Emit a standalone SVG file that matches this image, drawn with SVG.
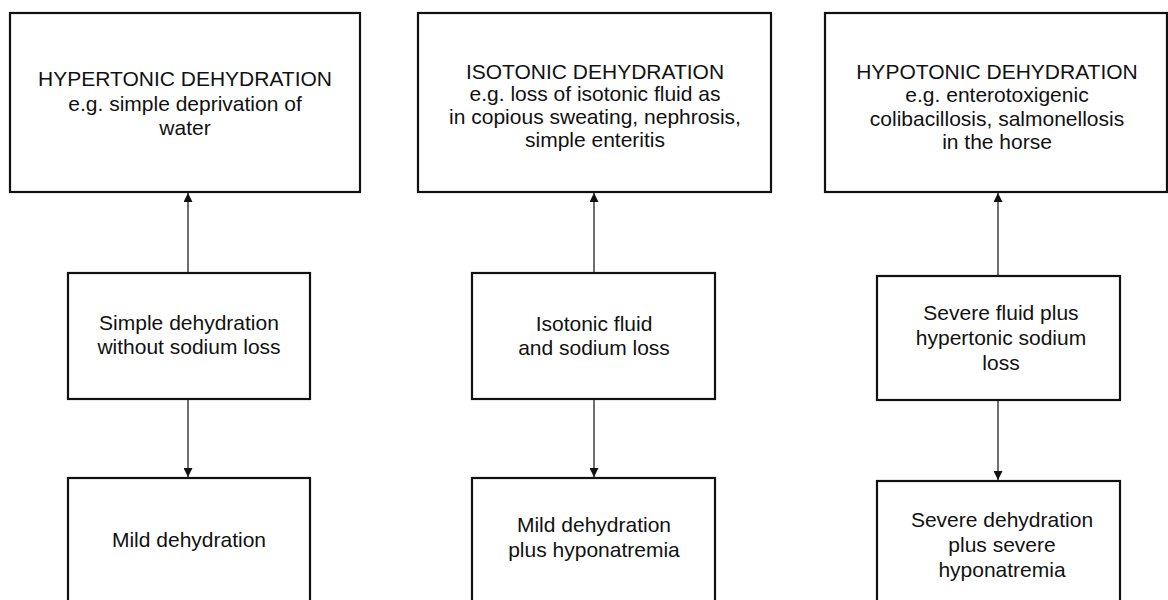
<svg xmlns="http://www.w3.org/2000/svg" width="1168" height="600" viewBox="0 0 1168 600">
<defs>
<marker id="ah" viewBox="0 0 10 10" refX="10" refY="5" markerWidth="9" markerHeight="9" markerUnits="userSpaceOnUse" orient="auto">
<path d="M0,0 L10,5 L0,10 z" fill="#111"/>
</marker>
<style>
.box{fill:#fff;stroke:#111;stroke-width:2.2}
.t{font-family:"Liberation Sans",Arial,sans-serif;font-size:21px;fill:#111;text-anchor:middle}
.c{stroke:#222;stroke-width:1.3;fill:none;marker-end:url(#ah)}
</style>
</defs>
<rect width="1168" height="600" fill="#fff"/>
<g id="connectors">
<line class="c" x1="188" y1="273" x2="188" y2="193"/>
<line class="c" x1="188" y1="399" x2="188" y2="477"/>
<line class="c" x1="594" y1="273" x2="594" y2="193"/>
<line class="c" x1="594" y1="399" x2="594" y2="477"/>
<line class="c" x1="998" y1="276" x2="998" y2="193"/>
<line class="c" x1="998" y1="400" x2="998" y2="480"/>
</g>
<g id="hypertonic">
<rect class="box" x="10" y="13" width="350" height="179"/>
<text class="t" x="185" y="86">HYPERTONIC DEHYDRATION</text>
<text class="t" x="185" y="111">e.g. simple deprivation of</text>
<text class="t" x="185" y="135">water</text>
</g>
<g id="simple-dehydration">
<rect class="box" x="68" y="273" width="242" height="126"/>
<text class="t" x="189" y="330">Simple dehydration</text>
<text class="t" x="189" y="354">without sodium loss</text>
</g>
<g id="mild-dehydration">
<rect class="box" x="68" y="478" width="242" height="160"/>
<text class="t" x="189" y="547">Mild dehydration</text>
</g>
<g id="isotonic">
<rect class="box" x="418" y="13" width="353" height="179"/>
<text class="t" x="595" y="79">ISOTONIC DEHYDRATION</text>
<text class="t" x="595" y="101">e.g. loss of isotonic fluid as</text>
<text class="t" x="595" y="124">in copious sweating, nephrosis,</text>
<text class="t" x="595" y="147">simple enteritis</text>
</g>
<g id="isotonic-fluid">
<rect class="box" x="472" y="273" width="243" height="126"/>
<text class="t" x="594" y="331">Isotonic fluid</text>
<text class="t" x="594" y="355">and sodium loss</text>
</g>
<g id="mild-hyponatremia">
<rect class="box" x="472" y="478" width="243" height="160"/>
<text class="t" x="594" y="532">Mild dehydration</text>
<text class="t" x="594" y="557">plus hyponatremia</text>
</g>
<g id="hypotonic">
<rect class="box" x="825" y="13" width="342" height="179"/>
<text class="t" x="997" y="79">HYPOTONIC DEHYDRATION</text>
<text class="t" x="997" y="102">e.g. enterotoxigenic</text>
<text class="t" x="997" y="126">colibacillosis, salmonellosis</text>
<text class="t" x="997" y="149">in the horse</text>
</g>
<g id="severe-fluid">
<rect class="box" x="877" y="276" width="243" height="124"/>
<text class="t" x="1001" y="320">Severe fluid plus</text>
<text class="t" x="1001" y="345">hypertonic sodium</text>
<text class="t" x="1001" y="370">loss</text>
</g>
<g id="severe-hyponatremia">
<rect class="box" x="877" y="481" width="243" height="160"/>
<text class="t" x="1002" y="527">Severe dehydration</text>
<text class="t" x="1002" y="552">plus severe</text>
<text class="t" x="1002" y="577">hyponatremia</text>
</g>
</svg>
